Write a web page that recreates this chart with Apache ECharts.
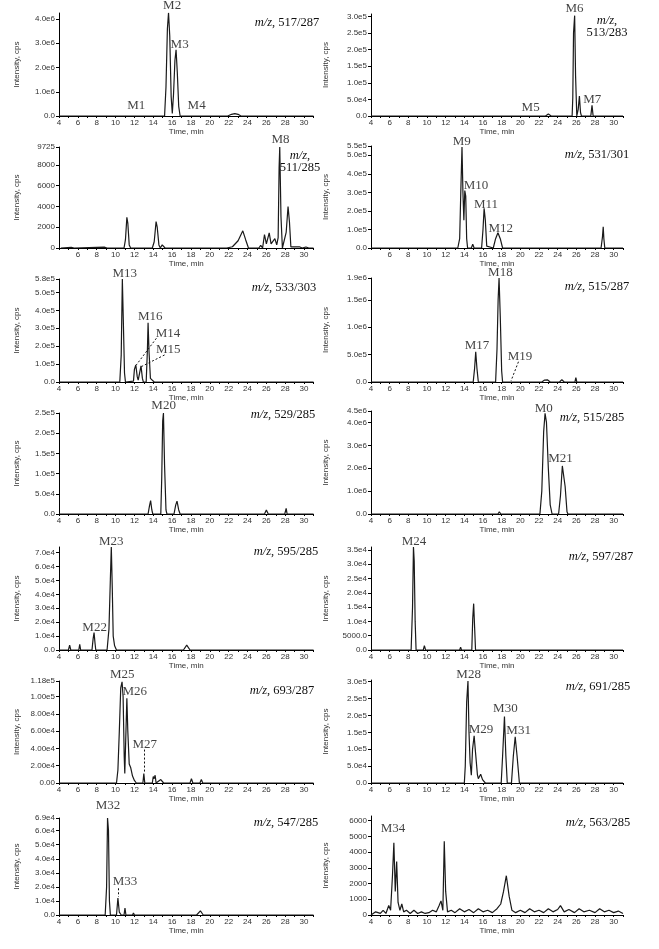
<!DOCTYPE html>
<html>
<head>
<meta charset="utf-8">
<script src="https://cdn.jsdelivr.net/npm/echarts@6/dist/echarts.min.js"></script>
<style>
  html, body { margin: 0; background: #fff; }
  #chart { width: 659px; height: 949px; }
</style>
</head>
<body>
<div id="chart"></div>
<script>
// ---- x axis (time, min) ----
const xLabelsFrom4 = [4, 6, 8, 10, 12, 14, 16, 18, 20, 22, 24, 26, 28, 30];
const xLabelsFrom6 = [6, 8, 10, 12, 14, 16, 18, 20, 22, 24, 26, 28, 30];
const minuteTicks = [4, 5, 6, 7, 8, 9, 10, 11, 12, 13, 14, 15, 16, 17, 18, 19, 20, 21, 22, 23, 24, 25, 26, 27, 28, 29, 30, 31];

// ---- traces: [time, intensity] ----
const mz517_287 = [[4,0],[11.8,0],[12.0,5e4],[12.2,0],[15.2,0],[15.35,1.2e6],[15.5,3.6e6],[15.62,4.26e6],[15.75,3.3e6],[15.9,0.8e6],[16.02,0.1e6],[16.15,0.9e6],[16.3,2.3e6],[16.42,2.73e6],[16.55,1.8e6],[16.7,0.4e6],[16.85,0],[17.55,0],[17.7,3e4],[17.85,0],[18.45,0],[18.6,3e4],[18.75,0],[21.9,0],[22.3,7e4],[22.65,1.0e5],[23.0,7e4],[23.3,0],[24.4,0],[24.6,4e4],[24.8,0],[31,0]];
const mz513_283 = [[4,0],[13.8,0],[13.9,2e3],[14.0,0],[14.4,0],[14.5,2e3],[14.6,0],[20.9,0],[21.1,3e3],[21.3,0],[22.7,0],[23.0,6e3],[23.3,0],[24.7,0],[24.85,3e3],[25.0,0],[25.55,0],[25.62,5.5e4],[25.7,2.5e5],[25.82,3.02e5],[25.92,1.2e5],[26.05,0],[26.2,2e4],[26.33,6e4],[26.45,1e4],[26.55,0],[27.55,0],[27.68,3.2e4],[27.8,0],[31,0]];
const mz511_285 = [[4.2,0],[5.3,60],[5.6,0],[8.8,80],[9.1,0],[10.9,0],[11.05,800],[11.2,2950],[11.3,2400],[11.45,300],[11.6,0],[13.4,0],[13.6,120],[13.9,0],[14.1,600],[14.3,2550],[14.42,2000],[14.6,300],[14.75,0],[14.95,300],[15.1,200],[15.25,0],[19.9,0],[20.0,150],[20.2,0],[21.8,0],[22.0,150],[22.4,120],[22.6,200],[23.0,700],[23.5,1650],[23.8,800],[24.1,0],[25.2,0],[25.4,250],[25.6,0],[25.8,1300],[26.0,400],[26.15,500],[26.3,1450],[26.5,400],[26.7,500],[26.9,900],[27.1,300],[27.25,1000],[27.35,7700],[27.42,9725],[27.55,3000],[27.7,0],[27.9,0],[28.1,1500],[28.3,4000],[28.45,2500],[28.6,100],[28.8,0],[29.5,120],[29.8,0],[30.2,100],[30.5,0],[31,0]];
const mz531_301 = [[4,0],[13.3,0],[13.5,0.5e5],[13.62,3.0e5],[13.75,5.45e5],[13.85,3.0e5],[13.95,1.5e5],[14.05,3.1e5],[14.15,2.8e5],[14.25,0.5e5],[14.35,0],[14.75,0],[14.9,0.2e5],[15.05,0],[15.85,0],[16.0,1.0e5],[16.12,2.14e5],[16.25,1.5e5],[16.4,0.1e5],[16.5,0],[17.1,0],[17.35,0.5e5],[17.6,0.82e5],[17.85,0.5e5],[18.1,0],[27.6,0],[27.8,0.02e5],[28.0,0],[28.65,0],[28.8,0.6e5],[28.88,1.15e5],[28.95,0.5e5],[29.05,0],[31,0]];
const mz533_303 = [[4,0],[10.45,0],[10.6,1.5e5],[10.72,5.75e5],[10.82,3.5e5],[10.95,0.5e5],[11.05,0],[11.15,0.5e4],[11.9,0.5e4],[12.0,0.7e5],[12.15,0.95e5],[12.3,0.3e5],[12.4,0.1e5],[12.55,0.5e5],[12.7,0.9e5],[12.85,0.2e5],[12.95,0],[13.25,0],[13.38,1.8e5],[13.45,3.3e5],[13.55,1.7e5],[13.7,0.2e5],[13.85,0.15e5],[14.1,0],[16.0,0],[16.1,0.4e4],[16.2,0],[17.6,0],[17.7,0.3e4],[17.8,0],[27.1,0],[27.2,0.4e4],[27.3,0],[31,0]];
const mz515_287 = [[4,0],[10.4,0],[10.5,1.5e4],[10.6,0],[14.95,0],[15.1,2.5e5],[15.22,5.5e5],[15.35,2.5e5],[15.5,0],[17.35,0],[17.5,6e5],[17.62,1.5e6],[17.72,1.9e6],[17.85,1.2e6],[18.0,2e5],[18.1,0],[18.9,0],[19.0,1e4],[19.1,0],[22.3,0],[22.6,3.5e4],[22.9,4e4],[23.2,0],[24.2,0],[24.45,4e4],[24.7,0],[25.85,0],[25.95,8e4],[26.05,0],[31,0]];
const mz529_285 = [[4,0],[8.4,0],[8.5,3e3],[8.6,0],[9.4,0],[9.5,3e3],[9.6,0],[13.45,0],[13.6,2e4],[13.72,3.3e4],[13.85,1e4],[13.95,0],[14.2,0],[14.3,3e3],[14.4,0],[14.8,0],[14.9,9e4],[15.0,2.3e5],[15.08,2.5e5],[15.2,1.2e5],[15.35,0.1e5],[15.45,0],[16.2,0],[16.38,2.2e4],[16.52,3.2e4],[16.7,1e4],[16.85,0],[25.8,0],[26.0,1.0e4],[26.2,0],[27.95,0],[28.1,1.4e4],[28.2,0],[28.4,2e3],[28.5,0],[31,0]];
const mz515_285 = [[4,0],[17.6,0],[17.75,1e5],[17.9,0],[22.1,0],[22.3,1.0e6],[22.5,3.6e6],[22.65,4.4e6],[22.8,4.0e6],[23.0,2.0e6],[23.2,0.4e6],[23.4,0],[24.1,0],[24.3,0.8e6],[24.5,2.1e6],[24.62,2.18e6],[24.8,1.2e6],[25.0,0.1e6],[25.1,0],[25.85,0],[25.95,6e4],[26.05,0],[31,0]];
const mz595_285 = [[4,0],[5.0,0],[5.13,3.5e3],[5.25,0],[6.1,0],[6.2,4e3],[6.3,0],[7.5,0],[7.62,8e3],[7.72,1.25e4],[7.82,5e3],[7.9,0],[9.1,0],[9.3,1.5e4],[9.45,5.1e4],[9.55,7.4e4],[9.65,4.5e4],[9.75,1.0e4],[9.9,3e3],[10.1,0],[15.9,0],[16.0,1e3],[16.1,0],[17.2,0],[17.55,3.5e3],[17.9,0],[21.2,0],[21.3,5e2],[21.4,0],[31,0]];
const mz597_287 = [[4,0],[5.8,0],[5.9,300],[6.0,0],[8.3,0],[8.45,1.5e4],[8.55,3.6e4],[8.63,3.1e4],[8.73,1.0e4],[8.83,0],[9.6,0],[9.72,1500],[9.85,0],[11.9,0],[12.0,300],[12.15,0],[13.5,0],[13.6,1000],[13.7,0],[14.3,0],[14.4,600],[14.5,0],[14.8,0],[14.9,1.1e4],[15.0,1.62e4],[15.1,8e3],[15.2,0],[18.0,0],[18.1,200],[18.2,0],[28.0,0],[28.1,300],[28.3,0],[31,0]];
const mz693_287 = [[4,0],[10.1,0],[10.25,1.5e4],[10.4,6e4],[10.55,1.1e5],[10.69,1.17e5],[10.8,1.0e5],[10.92,3e4],[10.98,1.1e4],[11.08,5e4],[11.2,9.8e4],[11.3,6e4],[11.45,2.2e4],[11.6,1.8e4],[11.8,8e3],[12.0,3e3],[12.2,0],[12.9,0],[13.0,1.1e4],[13.1,0],[13.9,0],[14.0,7.5e3],[14.1,5e3],[14.2,9e3],[14.3,0],[14.5,0],[14.8,4e3],[15.1,0],[17.9,0],[18.05,5e3],[18.2,0],[18.95,0],[19.1,4e3],[19.25,0],[31,0]];
const mz691_285 = [[4,0],[14.0,0],[14.1,5e4],[14.25,2.4e5],[14.39,3.02e5],[14.5,1.5e5],[14.62,6e4],[14.75,2.3e4],[14.88,1.0e5],[15.05,1.4e5],[15.2,9e4],[15.4,2.5e4],[15.5,1.3e4],[15.75,2.6e4],[15.95,1e4],[16.25,0],[17.95,0],[18.1,8e4],[18.3,1.97e5],[18.45,8e4],[18.6,0],[19.05,0],[19.25,8e4],[19.45,1.37e5],[19.65,8e4],[19.9,0],[31,0]];
const mz547_285 = [[4,0],[8.9,0],[9.05,2.0e4],[9.15,6.9e4],[9.25,6.0e4],[9.35,1.0e4],[9.45,0],[10.1,0],[10.25,1.2e4],[10.4,2e3],[10.6,0],[10.9,0],[11.0,5e3],[11.1,0],[11.8,0],[11.9,1.5e3],[12.0,0],[14.5,0],[14.6,1e3],[14.7,0],[18.6,0],[19.0,3e3],[19.3,0],[31,0]];
const mz563_285 = [[4,0],[4.5,200],[5.0,100],[5.3,300],[5.6,100],[5.9,600],[6.1,300],[6.3,2500],[6.45,4600],[6.6,1500],[6.75,3400],[6.9,800],[7.1,300],[7.3,700],[7.5,200],[7.8,300],[8.2,100],[8.6,300],[9.0,100],[9.4,200],[9.8,100],[10.2,150],[10.6,300],[11.0,200],[11.3,600],[11.5,900],[11.7,300],[11.85,4700],[12.0,1500],[12.2,200],[12.6,300],[13.0,150],[13.5,400],[14.0,200],[14.5,350],[15.0,150],[15.5,400],[16.0,200],[16.5,300],[17.0,150],[17.5,400],[17.9,700],[18.2,1500],[18.5,2500],[18.8,1200],[19.1,300],[19.5,150],[20.0,300],[20.5,150],[21.0,400],[21.5,200],[22.0,300],[22.5,150],[23.0,400],[23.5,200],[24.0,350],[24.3,600],[24.7,200],[25.2,350],[25.8,150],[26.3,400],[26.8,200],[27.4,300],[28.0,150],[28.5,400],[29.0,200],[29.5,300],[30.0,150],[30.5,250],[31,100]];

// ---- peak labels: [name, time, intensity at label centre] ----
const peaks517_287 = [['M1',12.2,0.42e6],['M2',16.0,4.55e6],['M3',16.8,2.93e6],['M4',18.6,0.42e6]];
const peaks513_283 = [['M5',21.1,2.5e4],['M6',25.8,3.22e5],['M7',27.7,5.0e4]];
const peaks511_285 = [['M8',27.5,10450]];
const peaks531_301 = [['M9',13.73,5.75e5],['M10',15.25,3.36e5],['M11',16.32,2.34e5],['M12',17.9,1.07e5]];
const peaks533_303 = [['M13',10.97,6.05e5],['M16',13.69,3.66e5],['M14',15.57,2.69e5],['M15',15.6,1.79e5]];
const peaks515_287 = [['M17',15.36,6.7e5],['M18',17.86,2.0e6],['M19',19.96,4.6e5]];
const peaks529_285 = [['M20',15.1,2.68e5]];
const peaks515_285 = [['M0',22.5,4.6e6],['M21',24.3,2.43e6]];
const peaks595_285 = [['M23',9.55,7.8e4],['M22',7.78,1.63e4]];
const peaks597_287 = [['M24',8.6,3.78e4]];
const peaks693_287 = [['M25',10.72,1.25e5],['M26',12.03,1.06e5],['M27',13.09,4.45e4]];
const peaks691_285 = [['M28',14.46,3.22e5],['M29',15.79,1.57e5],['M30',18.4,2.19e5],['M31',19.82,1.54e5]];
const peaks547_285 = [['M32',9.2,7.8e4],['M33',11.0,2.36e4]];
const peaks563_285 = [['M34',6.36,5490]];

// ---- dashed leaders: [[t1, i1], [t2, i2]] ----
const leaders533_303 = [[[14.33,2.44e5],[12.2,0.95e5]],[[15.2,1.51e5],[12.74,0.86e5]]];
const leaders515_287 = [[[19.8,3.7e5],[19.0,2e4]]];
const leaders693_287 = [[[13.09,3.87e4],[13.09,1.1e4]]];
const leaders547_285 = [[[10.3,1.9e4],[10.3,1.3e4]]];

// ---- y ticks ----
const yTicks517_287 = [0,1e6,2e6,3e6,4e6];
const yTicks513_283 = [0,5e4,1e5,1.5e5,2e5,2.5e5,3e5];
const yTicks511_285 = [0,2000,4000,6000,8000,9725];
const yTicks531_301 = [0,1e5,2e5,3e5,4e5,5e5,5.5e5];
const yTicks533_303 = [0,1e5,2e5,3e5,4e5,5e5,5.75e5];
const yTicks515_287 = [0,5e5,1e6,1.5e6,1.9e6];
const yTicks529_285 = [0,5e4,1e5,1.5e5,2e5,2.5e5];
const yTicks515_285 = [0,1e6,2e6,3e6,4e6,4.5e6];
const yTicks595_285 = [0,1e4,2e4,3e4,4e4,5e4,6e4,7e4];
const yTicks597_287 = [0,5000,1e4,1.5e4,2e4,2.5e4,3e4,3.5e4];
const yTicks693_287 = [0,2e4,4e4,6e4,8e4,1e5,1.18e5];
const yTicks691_285 = [0,5e4,1e5,1.5e5,2e5,2.5e5,3e5];
const yTicks547_285 = [0,1e4,2e4,3e4,4e4,5e4,6e4,6.9e4];
const yTicks563_285 = [0,1000,2000,3000,4000,5000,6000];

const panels = [
  { mz: '517/287', trace: mz517_287, peaks: peaks517_287, leaders: [], yTicks: yTicks517_287, yMax: 4.25e6, fmt: 'e1', xLabels: xLabelsFrom4 },
  { mz: '513/283', trace: mz513_283, peaks: peaks513_283, leaders: [], yTicks: yTicks513_283, yMax: 3.07e5, fmt: 'e1', xLabels: xLabelsFrom4, twoLine: true },
  { mz: '511/285', trace: mz511_285, peaks: peaks511_285, leaders: [], yTicks: yTicks511_285, yMax: 9725, fmt: 'int', xLabels: xLabelsFrom6, twoLine: true },
  { mz: '531/301', trace: mz531_301, peaks: peaks531_301, leaders: [], yTicks: yTicks531_301, yMax: 5.5e5, fmt: 'e1', xLabels: xLabelsFrom6 },
  { mz: '533/303', trace: mz533_303, peaks: peaks533_303, leaders: leaders533_303, yTicks: yTicks533_303, yMax: 5.75e5, fmt: 'e1', xLabels: xLabelsFrom4 },
  { mz: '515/287', trace: mz515_287, peaks: peaks515_287, leaders: leaders515_287, yTicks: yTicks515_287, yMax: 1.9e6, fmt: 'e1', xLabels: xLabelsFrom4 },
  { mz: '529/285', trace: mz529_285, peaks: peaks529_285, leaders: [], yTicks: yTicks529_285, yMax: 2.5e5, fmt: 'e1', xLabels: xLabelsFrom4 },
  { mz: '515/285', trace: mz515_285, peaks: peaks515_285, leaders: [], yTicks: yTicks515_285, yMax: 4.5e6, fmt: 'e1', xLabels: xLabelsFrom4 },
  { mz: '595/285', trace: mz595_285, peaks: peaks595_285, leaders: [], yTicks: yTicks595_285, yMax: 7.4e4, fmt: 'e1', xLabels: xLabelsFrom4 },
  { mz: '597/287', trace: mz597_287, peaks: peaks597_287, leaders: [], yTicks: yTicks597_287, yMax: 3.6e4, fmt: 'dec', xLabels: xLabelsFrom4 },
  { mz: '693/287', trace: mz693_287, peaks: peaks693_287, leaders: leaders693_287, yTicks: yTicks693_287, yMax: 1.18e5, fmt: 'e2', xLabels: xLabelsFrom4 },
  { mz: '691/285', trace: mz691_285, peaks: peaks691_285, leaders: [], yTicks: yTicks691_285, yMax: 3.05e5, fmt: 'e1', xLabels: xLabelsFrom4 },
  { mz: '547/285', trace: mz547_285, peaks: peaks547_285, leaders: leaders547_285, yTicks: yTicks547_285, yMax: 6.9e4, fmt: 'e1', xLabels: xLabelsFrom4 },
  { mz: '563/285', trace: mz563_285, peaks: peaks563_285, leaders: [], yTicks: yTicks563_285, yMax: 6300, fmt: 'int', xLabels: xLabelsFrom4 }
];

// layout (px)
const leftTops = [13, 147, 279, 413, 547, 681, 818];
const rightTops = [14, 146, 278, 411, 547, 680, 816];
const bottoms = [116, 248, 382, 514, 650, 783, 915];
const titlePos = [[287,23],[607,27],[300,162],[597,155],[284,288],[597,287],[283,415],[592,418],[286,552],[601,557],[282,691],[598,687],[286,823],[598,823]];

const SANS = '"Liberation Sans", Arial, sans-serif';
const SERIF = '"Liberation Serif", "Times New Roman", serif';
const smallText = { fontFamily: SANS, fontSize: 8, color: '#333' };

function fmt(kind) {
  return function (v) {
    if (kind === 'int') return String(v);
    if (kind === 'e2') return v === 0 ? '0.00' : v.toExponential(2).replace('e+', 'e');
    if (v === 0) return '0.0';
    if (kind === 'dec' && v < 1e4) return v.toFixed(1);
    return v.toExponential(1).replace('e+', 'e');
  };
}

const grid = [], xAxis = [], yAxis = [], series = [], graphic = [];

panels.forEach(function (p, i) {
  const col = i % 2;
  const row = Math.floor(i / 2);
  const top = col ? rightTops[row] : leftTops[row];
  grid.push({
    left: col ? 371 : 59,
    width: col ? 252 : 254.5,
    top: top,
    height: bottoms[row] - top
  });
  xAxis.push({
    type: 'value', gridIndex: i, min: 4, max: 31,
    name: 'Time, min', nameLocation: 'middle', nameGap: 11,
    nameTextStyle: smallText,
    axisLine: { lineStyle: { color: '#000', width: 1 } },
    axisTick: { customValues: minuteTicks, length: 2, lineStyle: { color: '#000' } },
    axisLabel: Object.assign({ customValues: p.xLabels, margin: 3 }, smallText),
    splitLine: { show: false }
  });
  yAxis.push({
    type: 'value', gridIndex: i, min: 0, max: p.yMax,
    name: 'Intensity, cps', nameLocation: 'middle', nameGap: col ? 41 : 38,
    nameTextStyle: smallText,
    axisLine: { show: true, lineStyle: { color: '#000', width: 1 } },
    axisTick: { show: true, customValues: p.yTicks, length: 3, lineStyle: { color: '#000' } },
    axisLabel: Object.assign({ customValues: p.yTicks, margin: 4, formatter: fmt(p.fmt) }, smallText),
    splitLine: { show: false }
  });

  const line = {
    type: 'line', xAxisIndex: i, yAxisIndex: i,
    data: p.trace, showSymbol: false, silent: true, animation: false,
    lineStyle: { color: '#1a1a1a', width: 1.2 }
  };
  if (p.leaders.length) {
    line.markLine = {
      symbol: 'none', silent: true, animation: false,
      label: { show: false },
      lineStyle: { type: [2, 2], color: '#111', width: 1 },
      data: p.leaders.map(function (l) { return [{ coord: l[0] }, { coord: l[1] }]; })
    };
  }
  series.push(line);

  series.push({
    type: 'scatter', xAxisIndex: i, yAxisIndex: i, clip: false,
    silent: true, animation: false, symbolSize: 1,
    itemStyle: { color: 'transparent' },
    data: p.peaks.map(function (pk) { return { name: pk[0], value: [pk[1], pk[2]] }; }),
    label: {
      show: true, position: 'inside', formatter: '{b}',
      fontFamily: SERIF, fontSize: 13, color: '#111'
    }
  });

  const rich = {
    i: { fontFamily: SERIF, fontSize: 12.5, fontStyle: 'italic', fill: '#111', lineHeight: 12 },
    n: { fontFamily: SERIF, fontSize: 12.5, fill: '#111', lineHeight: 12 }
  };
  graphic.push({
    type: 'text', x: titlePos[i][0], y: titlePos[i][1], silent: true,
    style: {
      text: p.twoLine ? '{i|m/z}{n|,}\n{n|' + p.mz + '}' : '{i|m/z}{n|, ' + p.mz + '}',
      rich: rich, align: 'center', verticalAlign: 'middle',
      fontFamily: SERIF, fontSize: 12.5, fill: '#111'
    }
  });
});

const chart = echarts.init(document.getElementById('chart'), null, { renderer: 'canvas' });
chart.setOption({
  backgroundColor: '#fff',
  animation: false,
  grid: grid,
  xAxis: xAxis,
  yAxis: yAxis,
  series: series,
  graphic: graphic
});
</script>
</body>
</html>
